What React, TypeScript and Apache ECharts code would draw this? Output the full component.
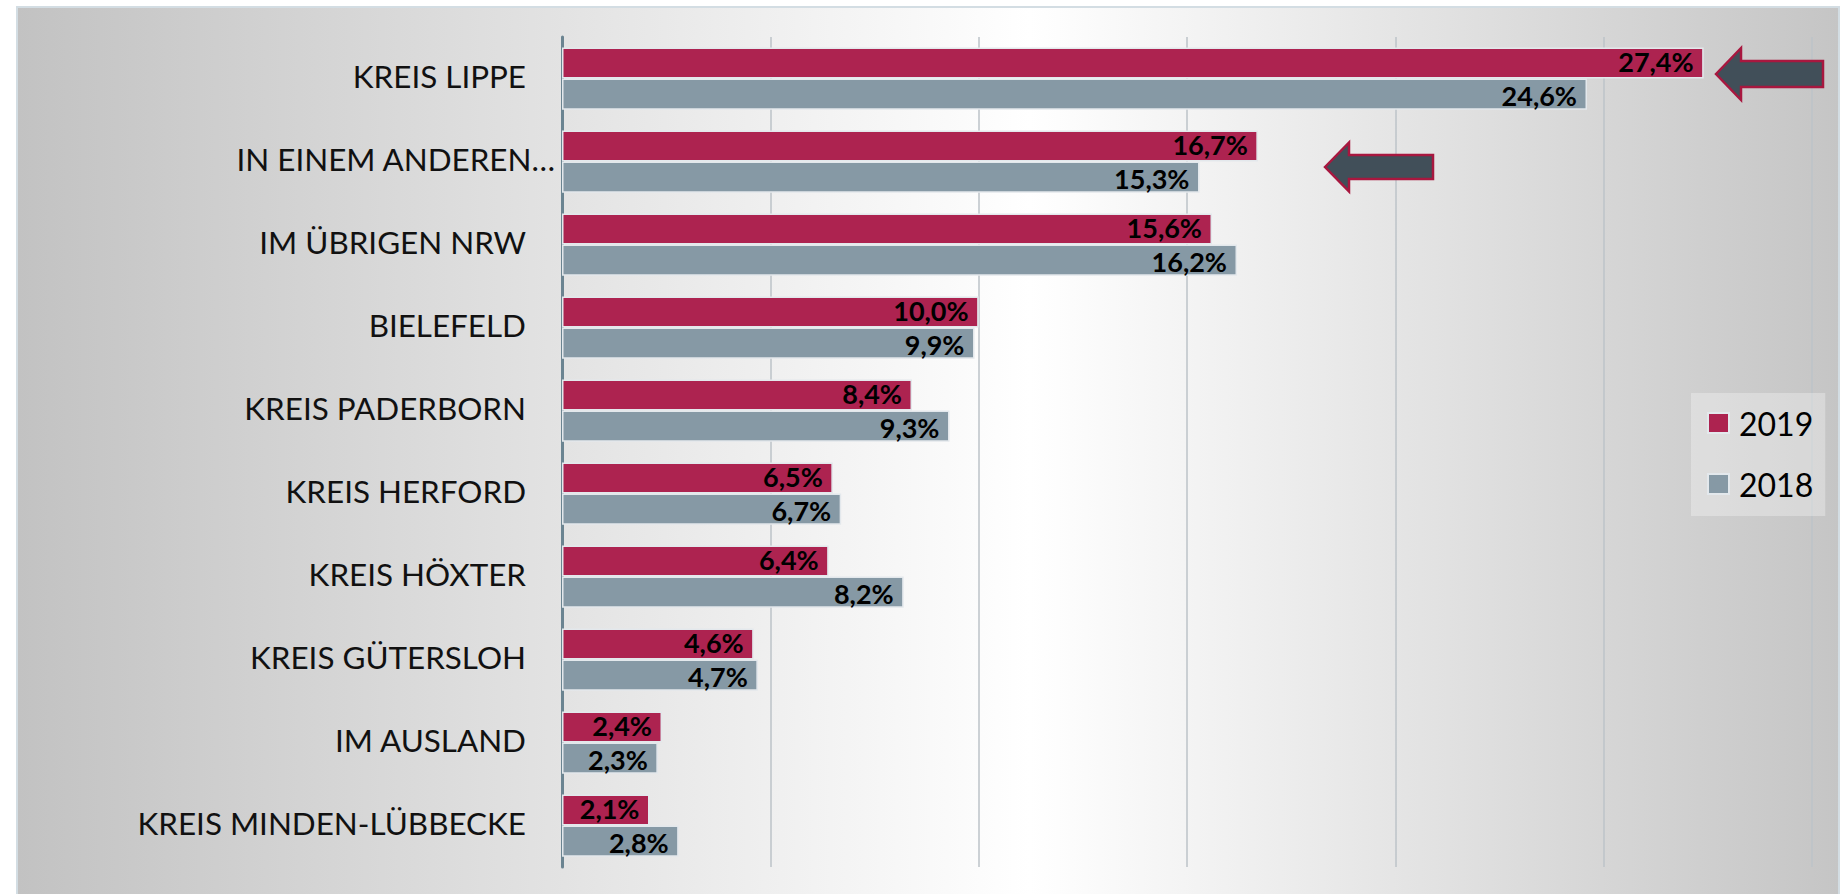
import React, { useEffect, useRef } from "react";
import * as echarts from "echarts";

const categories = [
  "KREIS LIPPE",
  "IN EINEM ANDEREN…",
  "IM ÜBRIGEN NRW",
  "BIELEFELD",
  "KREIS PADERBORN",
  "KREIS HERFORD",
  "KREIS HÖXTER",
  "KREIS GÜTERSLOH",
  "IM AUSLAND",
  "KREIS MINDEN-LÜBBECKE",
];
const values2019 = [27.4, 16.7, 15.6, 10.0, 8.4, 6.5, 6.4, 4.6, 2.4, 2.1];
const values2018 = [24.6, 15.3, 16.2, 9.9, 9.3, 6.7, 8.2, 4.7, 2.3, 2.8];
const seriesNames = ["2019", "2018"];
const axisMin = 0;
const axisMax = 30;
const axisStep = 5;

const RED = "#ad2350";
const GRAY = "#8699a5";

function arrow(tipX: number, tipY: number, headW: number, headH: number, shaftH: number, len: number) {
  return [
    [tipX, tipY],
    [tipX + headW, tipY - headH / 2],
    [tipX + headW, tipY - shaftH / 2],
    [tipX + len, tipY - shaftH / 2],
    [tipX + len, tipY + shaftH / 2],
    [tipX + headW, tipY + shaftH / 2],
    [tipX + headW, tipY + headH / 2],
  ];
}

export default function App() {
  const ref = useRef<HTMLDivElement>(null);

  useEffect(() => {
    if (!ref.current) return;
    const chart = echarts.init(ref.current, null, { renderer: "svg" });
    const labelFmt = (p: any) => Number(p.value).toFixed(1).replace(".", ",") + "%";
    const barLabel = (dy: number) => ({
      show: true,
      position: "insideRight",
      distance: 10,
      offset: [0, dy],
      formatter: labelFmt,
      fontFamily: "Lato",
      fontWeight: "bold",
      fontSize: 27,
      color: "#000",
    });
    chart.setOption({
      animation: false,
      graphic: [
        {
          type: "rect",
          z: -100,
          silent: true,
          shape: { x: 17, y: 7, width: 1822, height: 900 },
          style: {
            fill: new echarts.graphic.LinearGradient(0, 0, 1, 0, [
              { offset: 0, color: "#c2c2c2" },
              { offset: 0.556, color: "#ffffff" },
              { offset: 1, color: "#c5c5c5" },
            ]),
            stroke: "#d3dde3",
            lineWidth: 2,
          },
        },
        {
          type: "polygon",
          z: 100,
          shape: { points: arrow(1716, 74, 25, 52, 26, 107) },
          style: { fill: "#414f59", stroke: "#a8173f", lineWidth: 2.5 },
        },
        {
          type: "polygon",
          z: 100,
          shape: { points: arrow(1325, 167, 24, 49, 24, 108) },
          style: { fill: "#414f59", stroke: "#a8173f", lineWidth: 2.5 },
        },
      ],
      legend: {
        data: seriesNames,
        orient: "vertical",
        left: 1691,
        top: 393,
        padding: [10, 12, 12, 16],
        itemGap: 21,
        itemWidth: 21,
        itemHeight: 20,
        icon: "rect",
        backgroundColor: "rgba(255,255,255,0.3)",
        textStyle: {
          fontFamily: "Lato",
          fontSize: 32,
          color: "#000",
          lineHeight: 40,
          padding: [0, 0, 0, 5],
        },
      },
      grid: { left: 562, right: 33, top: 37, bottom: 27, containLabel: false },
      xAxis: {
        type: "value",
        min: axisMin,
        max: axisMax,
        interval: axisStep,
        axisLabel: { show: false },
        axisLine: { show: false },
        axisTick: { show: false },
        splitLine: { show: true, lineStyle: { color: "#bcc3c8", width: 1.5 } },
      },
      yAxis: {
        type: "category",
        inverse: true,
        data: categories,
        axisTick: { show: false },
        axisLine: { show: true, lineStyle: { color: "#6b8491", width: 3 } },
        axisLabel: {
          margin: 7,
          color: "#111",
          fontFamily: "Lato",
          fontSize: 31.4,
          formatter: (v: string) => (v.endsWith("…") ? `{e|${v}}` : `{n|${v}}`),
          rich: {
            n: { fontFamily: "Lato", fontSize: 31.4, color: "#111", padding: [0, 29, 5, 0] },
            e: { fontFamily: "Lato", fontSize: 31.4, color: "#111", padding: [0, 0, 5, 0] },
          },
        },
      },
      series: [
        {
          name: seriesNames[0],
          type: "bar",
          data: values2019,
          barGap: "0%",
          barCategoryGap: "25%",
          itemStyle: { color: RED, borderColor: "#e3e8ec", borderWidth: 1.5 },
          label: barLabel(-1.5),
        },
        {
          name: seriesNames[1],
          type: "bar",
          data: values2018,
          barGap: "0%",
          barCategoryGap: "25%",
          itemStyle: { color: GRAY, borderColor: "#e3e8ec", borderWidth: 1.5 },
          label: barLabel(1.5),
        },
      ],
    });
    return () => chart.dispose();
  }, []);

  return (
    <div
      ref={ref}
      style={{ position: "fixed", left: 0, top: 0, width: 1845, height: 894, background: "#ffffff" }}
    />
  );
}
